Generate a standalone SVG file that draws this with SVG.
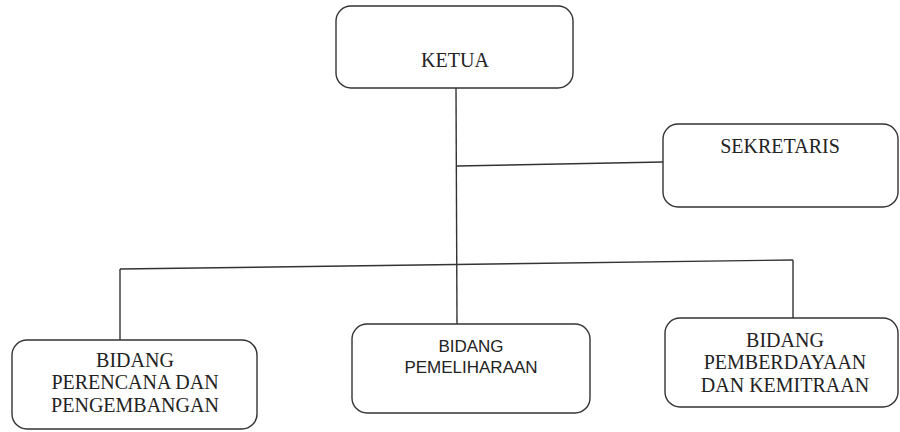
<svg xmlns="http://www.w3.org/2000/svg" width="900" height="432" viewBox="0 0 900 432">
<style>
.box{fill:#fff;stroke:#333;stroke-width:1.4}
.ln{stroke:#333;stroke-width:1.4;fill:none}
.t{font-family:"Liberation Serif","Times New Roman",serif;font-size:20px;fill:#222;text-anchor:middle}
.s{font-family:"Liberation Sans",Arial,sans-serif;font-size:17px;fill:#222;text-anchor:middle}
</style>
<rect width="900" height="432" fill="#fff"/>
<g id="connectors">
<line class="ln" x1="456" y1="88" x2="457" y2="325"/>
<line class="ln" x1="457" y1="166" x2="663" y2="162"/>
<line class="ln" x1="120" y1="269" x2="793" y2="260"/>
<line class="ln" x1="120" y1="269" x2="120" y2="340"/>
<line class="ln" x1="793" y1="260" x2="793" y2="318"/>
</g>
<g id="ketua">
<rect class="box" x="336" y="6" width="237" height="82" rx="15"/>
<text class="t" x="455" y="67">KETUA</text>
</g>
<g id="sekretaris">
<rect class="box" x="663" y="124" width="235" height="83" rx="15"/>
<text class="t" x="780" y="153">SEKRETARIS</text>
</g>
<g id="perencana">
<rect class="box" x="12" y="340" width="245" height="89" rx="15"/>
<text class="t" x="135" y="367">BIDANG</text>
<text class="t" x="135" y="389">PERENCANA DAN</text>
<text class="t" x="135" y="412">PENGEMBANGAN</text>
</g>
<g id="pemeliharaan">
<rect class="box" x="352" y="324" width="238" height="89" rx="15"/>
<text class="s" x="471" y="352">BIDANG</text>
<text class="s" x="471" y="373">PEMELIHARAAN</text>
</g>
<g id="pemberdayaan">
<rect class="box" x="665" y="318" width="233" height="89" rx="15"/>
<text class="t" x="785" y="347">BIDANG</text>
<text class="t" x="785" y="369">PEMBERDAYAAN</text>
<text class="t" x="785" y="392">DAN KEMITRAAN</text>
</g>
</svg>
